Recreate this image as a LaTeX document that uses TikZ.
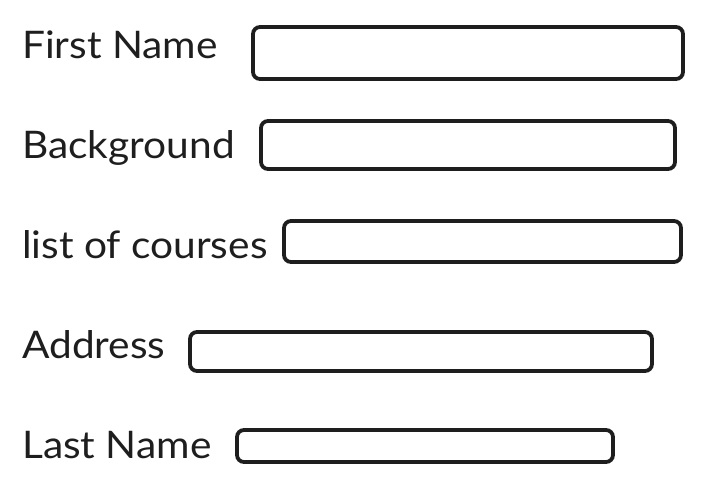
\documentclass[tikz,border=0pt]{standalone}
\usepackage{fontspec}
\setmainfont{Lato}[FakeStretch=1.07]
\definecolor{ink}{HTML}{1E1E1E}
\begin{document}
\begin{tikzpicture}[x=1pt,y=-1pt,
  lbl/.style={anchor=base west,inner sep=0pt,text=ink,font=\fontsize{38}{44}\selectfont},
  field/.style={draw=ink,line width=3.8pt,rounded corners=7pt}]
\useasboundingbox (0,0) rectangle (703,490);
\node[lbl] (t1) at (22,58) {First Name};
\node[lbl] (t2) at (22,158) {Background};
\node[lbl] (t3) at (22,258) {list of courses};
\node[lbl] (t4) at (22,358) {Address};
\node[lbl] (t5) at (22,458) {Last Name};
\draw[field] (253,27) rectangle (683,79);
\draw[field] (261,121) rectangle (675,169);
\draw[field] (284,221) rectangle (681,262);
\draw[field] (190,332) rectangle (652,371);
\draw[field] (237,430) rectangle (613,462);
\end{tikzpicture}
\end{document}
